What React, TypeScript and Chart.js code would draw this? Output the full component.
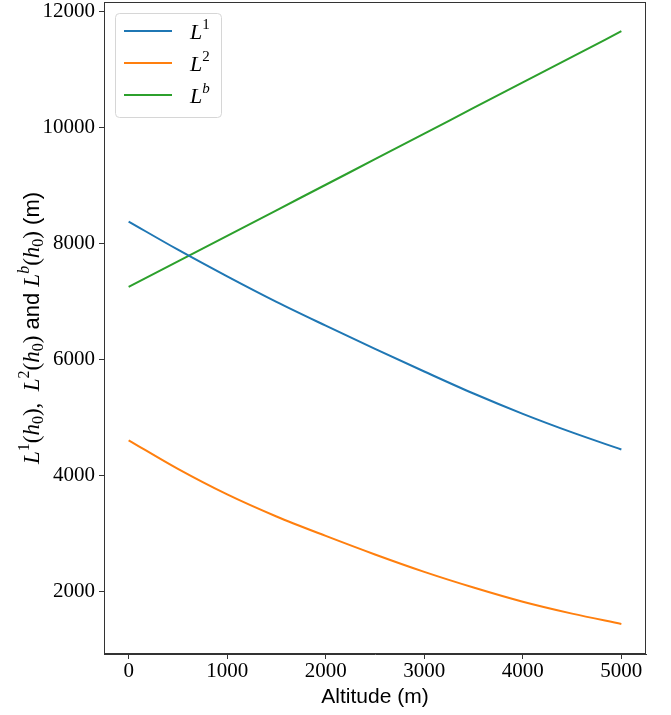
import React, { useEffect, useRef } from "react";
import { Chart, registerables } from "chart.js";

Chart.register(...registerables);

// Data
const altitude = [0, 500, 1000, 1500, 2000, 2500, 3000, 3500, 4000, 4500, 5000];
const L1 = [8385, 7900, 7440, 7000, 6590, 6190, 5800, 5420, 5070, 4750, 4455];
const L2 = [4614, 4120, 3680, 3300, 2965, 2645, 2345, 2075, 1830, 1625, 1447];
const Lb = [7260, 7700, 8140, 8580, 9020, 9460, 9900, 10345, 10785, 11225, 11667];
const xTicks = [0, 1000, 2000, 3000, 4000, 5000];
const yTicks = [2000, 4000, 6000, 8000, 10000, 12000];
const seriesNames = ["L1", "L2", "Lb"];
const seriesSup = ["1", "2", "b"];

const COLORS = ["#1f77b4", "#ff7f0e", "#2ca02c"];
const SERIF = "'Liberation Serif', 'DejaVu Serif', serif";
const SANS = "'Liberation Sans', 'DejaVu Sans', sans-serif";

type Part = { t: string; font: string; dy: number };

function drawParts(ctx: CanvasRenderingContext2D, parts: Part[], x: number, y: number, center: boolean) {
  let total = 0;
  for (const p of parts) {
    ctx.font = p.font;
    total += ctx.measureText(p.t).width;
  }
  let cx = center ? x - total / 2 : x;
  ctx.textBaseline = "alphabetic";
  ctx.textAlign = "left";
  for (const p of parts) {
    ctx.font = p.font;
    ctx.fillText(p.t, cx, y + p.dy);
    cx += ctx.measureText(p.t).width;
  }
}

const MI = `italic 23px ${SERIF}`;
const MR = `23px ${SERIF}`;
const SUP = `16px ${SERIF}`;
const SUPI = `italic 16px ${SERIF}`;
const TXT = `22px ${SANS}`;

function lh(sup: string, supItalic: boolean): Part[] {
  return [
    { t: "L", font: MI, dy: 0 },
    { t: sup, font: supItalic ? SUPI : SUP, dy: -10 },
    { t: "(", font: MR, dy: 0 },
    { t: "h", font: MI, dy: 0 },
    { t: "0", font: SUP, dy: 4 },
    { t: ")", font: MR, dy: 0 },
  ];
}

const decorPlugin = {
  id: "decor",
  afterDraw(chart: any) {
    const ctx: CanvasRenderingContext2D = chart.ctx;
    const a = chart.chartArea;
    ctx.save();
    // frame
    ctx.strokeStyle = "#333333";
    ctx.lineWidth = 1;
    ctx.strokeRect(a.left + 0.5, a.top + 0.5, a.right - a.left - 1, a.bottom - a.top - 1);

    // x title
    ctx.fillStyle = "#000";
    ctx.font = `21px ${SANS}`;
    ctx.textAlign = "center";
    ctx.textBaseline = "alphabetic";
    ctx.fillText("Altitude (m)", (a.left + a.right) / 2, 703);

    // y title (rotated rich text)
    ctx.save();
    ctx.translate(39, (a.top + a.bottom) / 2);
    ctx.rotate(-Math.PI / 2);
    const parts: Part[] = [
      ...lh("1", false),
      { t: ",  ", font: MR, dy: 0 },
      ...lh("2", false),
      { t: " and ", font: TXT, dy: 0 },
      ...lh("b", true),
      { t: " (m)", font: TXT, dy: 0 },
    ];
    drawParts(ctx, parts, 0, 0, true);
    ctx.restore();

    // legend box
    const bx = a.left + 11.5, by = a.top + 11.5, bw = 106, bh = 104, r = 4;
    ctx.beginPath();
    ctx.moveTo(bx + r, by);
    ctx.lineTo(bx + bw - r, by);
    ctx.quadraticCurveTo(bx + bw, by, bx + bw, by + r);
    ctx.lineTo(bx + bw, by + bh - r);
    ctx.quadraticCurveTo(bx + bw, by + bh, bx + bw - r, by + bh);
    ctx.lineTo(bx + r, by + bh);
    ctx.quadraticCurveTo(bx, by + bh, bx, by + bh - r);
    ctx.lineTo(bx, by + r);
    ctx.quadraticCurveTo(bx, by, bx + r, by);
    ctx.closePath();
    ctx.fillStyle = "rgba(255,255,255,0.8)";
    ctx.fill();
    ctx.strokeStyle = "#d6d6d6";
    ctx.lineWidth = 1;
    ctx.stroke();

    chart.data.datasets.forEach((ds: any, i: number) => {
      const ly = a.top + 29 + i * 32;
      ctx.strokeStyle = ds.borderColor;
      ctx.lineWidth = 2;
      ctx.beginPath();
      ctx.moveTo(a.left + 20, ly);
      ctx.lineTo(a.left + 68, ly);
      ctx.stroke();
      ctx.fillStyle = "#000";
      drawParts(
        ctx,
        [
          { t: "L", font: `italic 22px ${SERIF}`, dy: 0 },
          { t: seriesSup[i], font: i === 2 ? `italic 15px ${SERIF}` : `15px ${SERIF}`, dy: -10 },
        ],
        a.left + 86,
        ly + 8,
        false
      );
    });
    ctx.restore();
  },
};

export default function App() {
  const ref = useRef<HTMLCanvasElement | null>(null);
  useEffect(() => {
    document.body.style.margin = "0";
    const canvas = ref.current!;
    const series = [L1, L2, Lb];
    const chart = new Chart(canvas, {
      type: "line",
      data: {
        datasets: series.map((s, i) => ({
          label: seriesNames[i],
          data: altitude.map((x, j) => ({ x, y: s[j] })),
          borderColor: COLORS[i],
          backgroundColor: COLORS[i],
          borderWidth: 2,
          pointRadius: 0,
          cubicInterpolationMode: "monotone" as const,
          fill: false,
        })),
      },
      options: {
        animation: false,
        responsive: false,
        maintainAspectRatio: false,
        layout: { padding: { top: 2, right: 25, left: 0, bottom: 0 } },
        plugins: { legend: { display: false }, tooltip: { enabled: false } },
        scales: {
          x: {
            type: "linear",
            min: -250,
            max: 5250,
            afterBuildTicks: (axis: any) => {
              axis.ticks = xTicks.map((v) => ({ value: v }));
            },
            afterFit: (axis: any) => {
              axis.height = 61;
              axis.paddingLeft = 0;
              axis.paddingRight = 0;
            },
            grid: { drawOnChartArea: false, drawTicks: true, tickLength: 5, color: "#333333", tickWidth: 1 },
            border: { color: "#333333", width: 1 },
            ticks: {
              color: "#000",
              font: { family: SERIF, size: 21 },
              padding: 0,
              maxRotation: 0,
              callback: (v: any) => String(v),
            },
          },
          y: {
            type: "linear",
            min: 929,
            max: 12171,
            afterBuildTicks: (axis: any) => {
              axis.ticks = yTicks.map((v) => ({ value: v }));
            },
            afterFit: (axis: any) => {
              axis.width = 104;
              axis.paddingTop = 0;
              axis.paddingBottom = 0;
            },
            grid: { drawOnChartArea: false, drawTicks: true, tickLength: 5, color: "#333333", tickWidth: 1 },
            border: { color: "#333333", width: 1 },
            ticks: {
              color: "#000",
              font: { family: SERIF, size: 21 },
              padding: 4,
              callback: (v: any) => String(v),
            },
          },
        },
      },
      plugins: [decorPlugin],
    });
    return () => chart.destroy();
  }, []);
  return (
    <div style={{ position: "absolute", left: 0, top: 0, width: 671, height: 715, background: "#fff" }}>
      <canvas ref={ref} width={671} height={715} style={{ display: "block" }} />
    </div>
  );
}
